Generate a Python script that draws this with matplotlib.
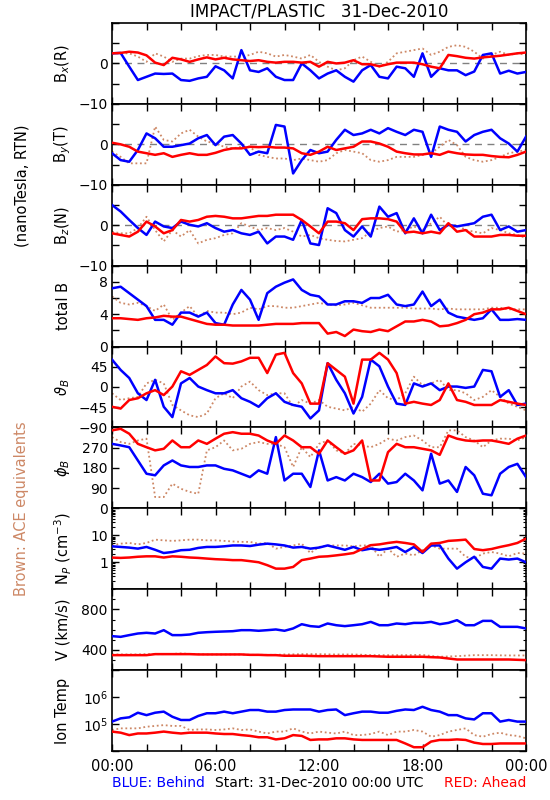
import matplotlib
matplotlib.use('Agg')
import matplotlib.pyplot as plt
import numpy as np
from matplotlib.ticker import MultipleLocator, FixedLocator, FuncFormatter, LogLocator, NullFormatter

# ---------------- data (half-hour samples, 00:00 .. 24:00) ----------------
hours = [i * 0.5 for i in range(49)]

bx_red = [2.5, 2.6, 2.9, 2.7, 2.0, 0.2, -0.4, 1.4, 1.0, 0.4, 1.0, 1.5, 1.0, 1.4, 1.0, 0.8, 0.6, 0.8, 0.4, 0.2,
          0.4, 0.4, 0.2, 0.4, -0.8, 0.4, 0.0, 0.2, 0.8, -0.2, -0.2, -0.7, -0.2, 0.2, 0.2, 0.2, -0.2, -0.8, -1.2, 2.1,
          1.8, 1.4, 1.2, 1.5, 1.7, 1.9, 2.2, 2.5, 2.7]
bx_blue = [2.5, 2.6, -0.8, -4.1, -3.3, -2.5, -2.6, -2.5, -4.1, -4.3, -3.7, -3.3, -0.7, -1.7, -3.7, 3.3, -1.7, -2.1, -1.2, -3.3,
           -4.1, -4.1, 0.0, -1.7, -3.7, -2.5, -1.7, -3.3, -4.5, -1.7, -0.4, -3.3, -3.7, -0.8, -1.2, -3.3, 2.5, -3.3, -1.2, -1.7,
           -1.7, -2.9, -2.0, 2.1, 2.5, -2.5, -1.8, -2.5, -2.1]
bx_brown = [2.5, 2.5, 2.5, 1.7, 0.4, 2.5, 1.7, 0.4, 1.2, 1.2, 1.8, 2.1, 2.1, 1.7, 1.7, 1.7, 2.1, 2.9, 2.5, 1.7,
            2.1, 1.7, 1.2, 2.1, 0.4, -0.8, -1.7, -1.2, 0.8, 1.7, 0.4, -0.8, 0.4, 2.5, 2.9, 3.3, 3.7, 2.1, 2.9, 4.1,
            4.5, 4.1, 2.9, 1.2, 2.1, 2.9, 2.1, 2.5, 2.1]

by_red = [0.4, 0.0, -0.6, -1.8, -2.2, -2.6, -2.2, -3.1, -2.6, -2.2, -2.6, -2.6, -2.1, -1.4, -1.0, -1.0, -0.6, -0.7, -0.6, -0.8,
          -0.8, -1.0, -2.2, -2.6, -1.8, -0.6, -1.4, -1.0, -0.6, 0.7, 0.7, 0.2, -0.6, -1.8, -2.2, -2.5, -2.5, -2.2, -2.6, -1.8,
          -2.2, -2.5, -2.6, -2.6, -2.9, -3.1, -3.2, -2.6, -1.8]
by_blue = [-2.2, -3.9, -4.3, -1.4, 2.7, 1.5, -0.6, -0.6, -0.2, 0.2, 1.5, 2.3, -0.2, 1.9, 2.3, 0.2, -2.6, -1.8, -2.2, 4.8,
           4.4, -7.2, -3.9, -1.4, -2.2, -1.8, 1.1, 3.6, 2.3, 2.7, 3.6, 2.7, 4.0, 3.1, 2.3, 3.6, 3.1, -3.1, 4.4, 3.6,
           3.1, 0.7, 2.3, 3.1, 3.6, 1.5, 0.2, -1.8, 1.9]
by_brown = [-1.8, -3.1, -4.7, -4.7, -4.7, 4.4, 1.1, 0.7, 2.7, 3.6, 1.9, 0.7, 0.2, -0.6, -1.0, -0.6, -0.6, -2.6, -3.1, -3.5,
            -3.5, -3.9, -3.5, -3.9, -4.3, -3.9, -2.2, -1.4, -1.8, -2.2, -3.9, -4.3, -3.9, -3.1, -3.1, -3.1, -2.6, -2.2, -0.6, 1.1,
            -0.2, -3.1, -3.9, -4.3, -3.9, -3.1, -2.2, -1.8, -1.4]

bz_red = [-2.0, -2.4, -2.8, -1.6, 0.9, -0.3, -2.0, -1.2, 1.3, 0.9, 1.3, 2.1, 2.3, 2.1, 1.7, 1.7, 2.0, 2.3, 2.3, 2.6,
          2.6, 2.6, 1.3, -0.3, -2.0, 0.9, 0.9, 0.5, -1.2, 1.5, 1.7, 1.7, 1.5, 0.9, -1.8, -1.6, -2.0, -1.6, -2.0, 0.5,
          -1.6, -1.2, -2.8, -2.8, -2.8, -2.4, -2.4, -2.6, -2.6]
bz_blue = [5.0, 3.4, 1.3, -0.7, -2.4, 0.9, -0.3, -0.7, 0.9, 0.1, -0.3, 0.5, -0.7, -1.6, -1.2, -2.0, -2.4, -1.6, -4.5, -2.8,
           -2.8, -3.6, 1.3, -4.5, -4.9, 4.2, 3.0, -1.2, -2.8, -0.3, -2.8, 4.6, 2.1, 3.0, -2.0, 1.7, -2.0, 2.6, -1.2, 0.1,
           -0.3, 0.1, 0.5, 2.1, 2.6, -1.2, -0.3, -1.6, -1.2]
bz_brown = [-1.6, -2.0, -2.0, -0.7, 2.1, -1.2, -4.0, -1.2, -2.8, -1.2, -4.5, -3.6, -3.2, -2.4, -2.0, 0.5, -0.3, -1.2, -0.7, -1.2,
            -0.7, -1.6, -2.8, -2.4, -3.2, -3.6, -3.9, -4.0, -3.6, -3.2, -1.6, -0.7, -0.3, -1.6, -1.2, -0.3, -1.2, 0.5, 2.1, -0.3,
            0.1, -1.2, -1.6, -2.0, -0.7, -1.2, -2.0, -2.4, -3.2]

bt_red = [3.5, 3.5, 3.4, 3.3, 3.5, 3.6, 3.8, 3.7, 3.7, 3.4, 3.1, 2.8, 2.7, 2.7, 2.6, 2.6, 2.6, 2.6, 2.7, 2.8,
          2.8, 2.8, 2.9, 2.9, 2.9, 1.6, 1.8, 1.3, 2.1, 1.9, 1.8, 2.1, 1.9, 2.5, 3.1, 3.1, 3.3, 3.1, 2.5, 2.6,
          2.9, 3.3, 4.0, 4.2, 4.6, 4.6, 4.8, 4.4, 4.0]
bt_blue = [7.2, 7.4, 6.6, 5.8, 5.0, 3.3, 3.3, 2.7, 4.2, 4.2, 3.7, 4.2, 2.9, 2.7, 5.2, 7.0, 5.8, 3.3, 6.6, 7.4,
           7.9, 8.3, 7.0, 6.4, 6.2, 5.2, 5.2, 5.6, 5.6, 5.4, 6.0, 6.0, 6.4, 5.2, 5.0, 5.2, 6.8, 5.0, 5.8, 4.2,
           3.7, 3.5, 3.3, 3.5, 4.6, 3.3, 3.3, 3.4, 3.3]
bt_brown = [6.2, 5.4, 5.2, 5.4, 5.0, 4.4, 5.2, 3.3, 4.2, 5.0, 3.7, 4.4, 4.2, 4.2, 4.0, 4.2, 4.8, 4.6, 5.0, 5.0,
            4.8, 4.8, 5.0, 5.2, 5.4, 5.2, 5.1, 5.2, 5.4, 5.1, 4.8, 4.8, 4.8, 4.8, 4.8, 4.7, 4.7, 4.7, 4.6, 4.7,
            4.6, 4.6, 4.6, 4.6, 4.8, 4.8, 4.6, 4.6, 4.6]

th_red = [-44, -48, -29, -25, -14, -7, -18, 1, 35, 27, 38, 49, 68, 53, 52, 57, 65, 65, 31, 72,
          76, 31, 8, -37, -37, 53, 38, 23, -37, 61, 61, 76, 61, 31, -37, -33, -37, -40, -29, 8,
          -29, -33, -40, -40, -40, -29, -33, -37, -40]
th_blue = [61, 38, 20, -14, -29, 16, -44, -67, 8, 20, 1, -7, -14, -14, -7, -25, -33, -44, -25, -14,
           -33, -40, -44, -70, -52, 53, 16, -14, -59, -22, 61, 46, 1, -37, -40, 8, 1, 8, -7, 1,
           1, -2, 1, 38, 35, -22, -7, -40, -37]
th_brown = [-14, -29, -25, -22, 8, 16, 8, -40, -52, -63, -67, -59, -25, -14, -25, 1, 12, -7, -18, -14,
            -14, -44, -29, -37, -29, -44, -48, -52, -44, -55, -37, -7, -25, -29, -14, 23, 4, 8, 16, -7,
            -7, -14, -29, -22, -7, -22, -37, -44, -52]

ph_red = [347, 354, 332, 287, 272, 258, 265, 302, 272, 272, 302, 287, 310, 332, 339, 332, 332, 324, 302, 287,
          324, 302, 272, 272, 243, 302, 272, 243, 258, 302, 124, 124, 250, 287, 272, 272, 265, 258, 238, 324,
          310, 302, 299, 302, 302, 295, 287, 310, 324]
ph_blue = [287, 280, 272, 213, 154, 147, 191, 213, 191, 184, 184, 191, 191, 176, 169, 154, 139, 169, 154, 317,
           124, 154, 154, 95, 258, 124, 139, 124, 154, 139, 117, 154, 110, 117, 154, 124, 80, 243, 110, 124,
           73, 184, 147, 65, 58, 154, 184, 198, 139]
ph_brown = [317, 295, 287, 302, 310, 50, 50, 110, 87, 73, 65, 258, 272, 302, 258, 265, 287, 295, 287, 287,
            272, 184, 272, 228, 287, 302, 258, 243, 287, 280, 272, 287, 310, 302, 317, 324, 302, 272, 272, 347,
            347, 317, 302, 272, 302, 310, 310, 302, 317]

np_red = [1.49, 1.45, 1.5, 1.6, 1.66, 1.66, 1.5, 1.66, 1.6, 1.5, 1.45, 1.37, 1.3, 1.26, 1.2, 1.2, 1.1, 1.0, 0.78, 0.58,
          0.58, 0.67, 1.2, 1.37, 1.6, 1.66, 1.8, 1.97, 2.2, 3.1, 4.3, 4.6, 5.2, 5.7, 5.2, 4.6, 2.4, 4.9, 5.2, 6.2,
          6.5, 6.9, 3.1, 2.8, 3.1, 3.7, 4.3, 5.2, 7.5]
np_blue = [3.9, 3.7, 3.5, 3.2, 3.7, 2.9, 2.2, 2.4, 2.8, 2.9, 3.4, 3.7, 3.7, 3.9, 4.2, 4.2, 4.0, 4.5, 4.9, 4.6,
           4.2, 3.5, 3.7, 3.2, 3.5, 4.2, 3.5, 2.9, 3.7, 2.8, 3.2, 2.9, 3.2, 3.7, 2.4, 3.7, 2.2, 4.2, 4.2, 1.37,
           0.58, 1.0, 1.6, 0.67, 0.58, 1.37, 1.26, 1.37, 1.0]
np_brown = [4.2, 4.9, 5.2, 4.6, 5.2, 6.9, 6.5, 6.2, 6.5, 6.9, 6.9, 6.5, 6.5, 6.2, 5.9, 5.7, 5.7, 4.9, 5.2, 3.2,
            3.7, 4.2, 4.9, 2.2, 3.7, 4.2, 4.2, 4.2, 3.9, 4.2, 4.2, 1.6, 3.2, 1.6, 2.1, 1.8, 2.8, 4.2, 3.2, 3.2,
            3.2, 1.6, 1.37, 2.1, 2.4, 2.1, 1.66, 2.2, 2.1]

v_red = [348, 348, 348, 348, 348, 358, 358, 358, 358, 358, 355, 355, 355, 355, 355, 355, 351, 351, 348, 348,
         342, 342, 342, 340, 338, 338, 338, 338, 338, 338, 338, 335, 332, 332, 332, 332, 332, 328, 325, 315,
         305, 305, 305, 305, 305, 305, 305, 302, 299]
v_blue = [536, 529, 546, 562, 569, 562, 595, 546, 546, 552, 569, 575, 579, 582, 585, 595, 595, 589, 595, 602,
          589, 612, 654, 635, 628, 661, 644, 635, 644, 654, 677, 644, 644, 661, 654, 667, 667, 677, 654, 667,
          694, 644, 644, 687, 687, 628, 628, 628, 612]
v_brown = [355, 355, 355, 355, 358, 358, 358, 360, 365, 360, 358, 355, 355, 355, 355, 355, 351, 351, 351, 351,
           355, 356, 358, 358, 358, 356, 355, 355, 355, 352, 348, 348, 348, 348, 348, 350, 351, 340, 332, 335,
           338, 343, 348, 348, 348, 346, 345, 345, 345]

logt_blue = [5.09, 5.21, 5.25, 5.42, 5.33, 5.42, 5.46, 5.27, 5.15, 5.15, 5.30, 5.40, 5.40, 5.46, 5.40, 5.46, 5.52, 5.52, 5.46, 5.46,
             5.52, 5.54, 5.54, 5.54, 5.46, 5.52, 5.54, 5.33, 5.40, 5.46, 5.46, 5.42, 5.42, 5.49, 5.54, 5.52, 5.64, 5.52, 5.46, 5.33,
             5.33, 5.21, 5.17, 5.40, 5.40, 5.09, 5.15, 5.09, 5.09]
logt_red = [4.72, 4.68, 4.59, 4.65, 4.65, 4.68, 4.72, 4.68, 4.65, 4.68, 4.68, 4.68, 4.65, 4.63, 4.63, 4.59, 4.56, 4.51, 4.51, 4.43,
            4.47, 4.59, 4.56, 4.41, 4.43, 4.43, 4.47, 4.47, 4.43, 4.41, 4.41, 4.41, 4.41, 4.41, 4.28, 4.14, 4.14, 4.35, 4.41, 4.41,
            4.43, 4.41, 4.31, 4.26, 4.26, 4.28, 4.28, 4.28, 4.28]
logt_brown = [4.78, 4.84, 4.84, 4.84, 4.90, 4.93, 4.96, 4.93, 4.93, 4.78, 4.80, 4.80, 4.78, 4.80, 4.84, 4.78, 4.80, 4.72, 4.65, 4.72,
              4.72, 4.84, 4.72, 4.65, 4.72, 4.68, 4.65, 4.72, 4.59, 4.59, 4.63, 4.72, 4.59, 4.72, 4.72, 4.78, 4.72, 4.53, 4.59, 4.72,
              4.78, 4.84, 4.59, 4.53, 4.63, 4.68, 4.59, 4.56, 4.47]

x_tick_labels = ['00:00', '06:00', '12:00', '18:00', '00:00']

# ---------------- styling ----------------
BLUE = '#0000ff'
RED = '#ff0000'
BROWN = '#cd8866'
plt.rcParams['font.family'] = ['DejaVu Sans']
plt.rcParams['mathtext.fontset'] = 'dejavusans'

W, H = 550, 800
fig = plt.figure(figsize=(W / 100, H / 100), dpi=100)
L, R, T, B = 112, 526, 23, 751
axes = fig.subplots(9, 1, sharex=True)
fig.subplots_adjust(left=L / W, right=R / W, top=1 - T / H, bottom=1 - B / H, hspace=0)

panels = [
    dict(lab=r'B$_x$(R)', data=(bx_brown, bx_blue, bx_red), lim=(-10, 10), ticks=[-10, -5, 0, 5, 10],
         tl=['\u221210', '', '0', '', ''], zero=True),
    dict(lab=r'B$_y$(T)', data=(by_brown, by_blue, by_red), lim=(-10, 10), ticks=[-10, -5, 0, 5, 10],
         tl=['\u221210', '', '0', '', ''], zero=True),
    dict(lab=r'B$_z$(N)', data=(bz_brown, bz_blue, bz_red), lim=(-10, 10), ticks=[-10, -5, 0, 5, 10],
         tl=['\u221210', '', '0', '', ''], zero=True),
    dict(lab='total B', data=(bt_brown, bt_blue, bt_red), lim=(0, 10), ticks=[0, 2, 4, 6, 8, 10],
         tl=['0', '', '4', '', '8', ''], zero=False),
    dict(lab=r'$\vartheta_B$', data=(th_brown, th_blue, th_red), lim=(-90, 90), ticks=[-90, -45, 0, 45, 90],
         tl=['\u221290', '\u221245', '0', '45', ''], zero=False),
    dict(lab=r'$\phi_B$', data=(ph_brown, ph_blue, ph_red), lim=(0, 360), ticks=[0, 90, 180, 270, 360],
         tl=['0', '90', '180', '270', ''], zero=False),
    dict(lab=r'N$_P$ (cm$^{-3}$)', data=(np_brown, np_blue, np_red), lim=(0.1, 100), log=True,
         ticks=[0.1, 1, 10, 100], tl=['', '1', '10', ''], zero=False),
    dict(lab='V (km/s)', data=(v_brown, v_blue, v_red), lim=(200, 1000), ticks=[400, 800],
         tl=['400', '800'], minor=100, zero=False),
    dict(lab='Ion Temp', data=([10 ** v for v in logt_brown], [10 ** v for v in logt_blue],
                               [10 ** v for v in logt_red]),
         lim=(1e4, 1e7), log=True, ticks=[1e4, 1e5, 1e6, 1e7], tl=['', r'10$^5$', r'10$^6$', ''], zero=False),
]

for ax, p in zip(axes, panels):
    brown, blue, red = p['data']
    if p.get('log'):
        ax.set_yscale('log')
    if p['zero']:
        ax.axhline(0, color='#808080', lw=1.0, ls=(0, (5, 4)), zorder=1)
    ax.plot(hours, brown, color=BROWN, lw=1.3, ls=(0, (1, 1.5)), zorder=2)
    ax.plot(hours, blue, color=BLUE, lw=1.8, zorder=3)
    ax.plot(hours, red, color=RED, lw=1.8, zorder=4)
    ax.set_ylim(*p['lim'])
    ax.yaxis.set_major_locator(FixedLocator(p['ticks']))
    ax.set_yticklabels(p['tl'])
    if p.get('log'):
        ax.yaxis.set_minor_locator(LogLocator(base=10, subs=np.arange(2, 10)))
        ax.yaxis.set_minor_formatter(NullFormatter())
    elif p.get('minor'):
        ax.yaxis.set_minor_locator(MultipleLocator(p['minor']))
    ax.set_xlim(0, 24)
    ax.xaxis.set_major_locator(MultipleLocator(2))
    ax.tick_params(axis='both', which='major', direction='in', top=True, right=True,
                   length=5, width=1.0, labelsize=10, pad=3, colors='black')
    ax.tick_params(axis='both', which='minor', direction='in', top=True, right=True,
                   length=2.5, width=0.8)
    for s in ax.spines.values():
        s.set_linewidth(1.2)
    bb = ax.get_position()
    fig.text(63 / W, (bb.y0 + bb.y1) / 2, p['lab'], rotation=90, ha='center', va='center', fontsize=10.5)

axes[-1].xaxis.set_major_formatter(
    FuncFormatter(lambda x, pos: x_tick_labels[int(round(x)) // 6] if int(round(x)) % 6 == 0 else ''))
axes[-1].tick_params(axis='x', labelsize=10.5, pad=6)

fig.text((L + R) / 2 / W, 1 - 11 / H, 'IMPACT/PLASTIC   31-Dec-2010', ha='center', va='center', fontsize=12)
fig.text(22 / W, 1 - 186 / H, '(nanoTesla, RTN)', rotation=90, ha='center', va='center', fontsize=10.5)
fig.text(22 / W, 1 - 509 / H, 'Brown: ACE equivalents', rotation=90, ha='center', va='center', fontsize=10.5,
         color=BROWN)
fig.text(L / W, 1 - 783 / H, 'BLUE: Behind', color=BLUE, ha='left', va='center', fontsize=10)
fig.text((L + R) / 2 / W, 1 - 783 / H, 'Start: 31-Dec-2010 00:00 UTC', color='black', ha='center',
         va='center', fontsize=10)
fig.text(R / W, 1 - 783 / H, 'RED: Ahead', color=RED, ha='right', va='center', fontsize=10)

fig.savefig('out.png', dpi=100)
